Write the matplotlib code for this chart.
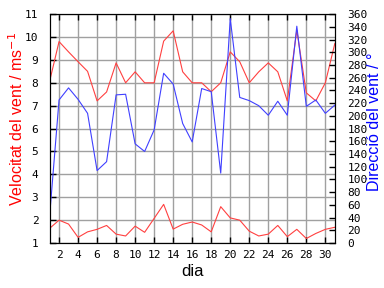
import numpy as np
import matplotlib
matplotlib.use('Agg')
import matplotlib.pyplot as plt

dies = list(range(1, 32))
vent_max = [8.05, 9.8, 9.35, 8.92, 8.5, 7.21, 7.6, 8.87, 8.0, 8.48, 8.0,
            8.0, 9.82, 10.27, 8.48, 8.0, 8.0, 7.61, 8.0, 9.35, 8.92,
            8.0, 8.48, 8.87, 8.48, 7.21, 10.3, 7.56, 7.21, 8.0, 9.72]
vent_mitja = [1.64, 2.0, 1.83, 1.25, 1.49, 1.6, 1.77, 1.39, 1.31, 1.74, 1.47,
              2.08, 2.69, 1.61, 1.82, 1.92, 1.79, 1.49, 2.59, 2.1, 2.0,
              1.52, 1.31, 1.39, 1.77, 1.28, 1.6, 1.2, 1.42, 1.6, 1.69]
direccio = [41, 225, 244, 226, 204, 114, 128, 233, 234, 156, 144,
            178, 267, 250, 188, 159, 243, 238, 110, 353, 229,
            224, 216, 201, 223, 201, 341, 215, 225, 204, 217]

fig = plt.figure(figsize=(3.84, 2.88), dpi=100)
ax = fig.add_axes([0.129, 0.156, 0.743, 0.795])
ax2 = ax.twinx()

ax.plot(dies, vent_max, color='#ff4040', lw=0.8)
ax.plot(dies, vent_mitja, color='#ff4040', lw=0.8)
ax2.plot(dies, direccio, color='#4040ff', lw=0.8)

ax.set_xlim(1, 31)
ax.set_ylim(1, 11)
ax2.set_ylim(0, 360)
ax.set_xticks(range(2, 31, 2))
ax.set_yticks(range(1, 12))
ax2.set_yticks(range(0, 361, 20))
ax.grid(True, color='#a0a0a0', lw=1, ls='-')
ax.set_axisbelow(True)

mono = 'DejaVu Sans Mono'
ax.tick_params(direction='in', top=True, right=False, length=4, width=1, labelsize=8)
ax.tick_params(axis='x', pad=5)
ax.tick_params(axis='y', pad=8)
ax2.tick_params(direction='in', length=4, width=1, pad=9, labelsize=8)
for lab in ax.get_xticklabels() + ax.get_yticklabels() + ax2.get_yticklabels():
    lab.set_family(mono)

sans = 'Liberation Sans'
fig.text(0.5, 0.056, 'dia', ha='center', va='center', fontsize=12, family=sans)
fig.text(0.044, 0.587, 'Velocitat del vent / ms$^{-1}$', color='red', fontsize=11.5,
         family=sans, rotation=90, ha='center', va='center')
fig.text(0.975, 0.576, 'Direcció del vent / °', color='blue', fontsize=11.5,
         family=sans, rotation=90, ha='center', va='center')

fig.savefig('out.png', dpi=100)
